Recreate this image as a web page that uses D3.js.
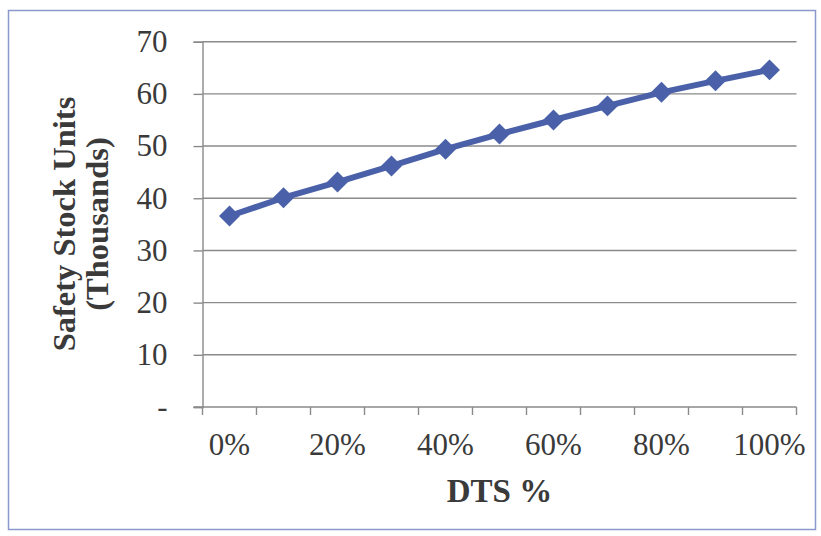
<!DOCTYPE html>
<html>
<head>
<meta charset="utf-8">
<script src="https://cdn.jsdelivr.net/npm/d3@7"></script>
<style>
  html, body { margin: 0; padding: 0; background: #fff; }
  svg { display: block; }
</style>
</head>
<body>
<svg id="chart" width="821" height="536"></svg>
<script>
// Safety stock (thousands of units) by DTS share
const categories = ["0%", "10%", "20%", "30%", "40%", "50%", "60%", "70%", "80%", "90%", "100%"];
const safetyStock = [36.6, 40.1, 43.1, 46.2, 49.4, 52.3, 55.0, 57.7, 60.3, 62.5, 64.6];
const yTicks = [0, 10, 20, 30, 40, 50, 60, 70];
const xLabelled = ["0%", "20%", "40%", "60%", "80%", "100%"];

const svg = d3.select("#chart");
const font = "'Liberation Serif', 'Times New Roman', serif";
const textColor = "#3a3a3a";
const axisColor = "#8a8a8a";
const seriesColor = "#4a61a9";

// outer chart frame
svg.append("rect")
  .attr("x", 8.5).attr("y", 10.5)
  .attr("width", 807).attr("height", 519)
  .attr("fill", "none")
  .attr("stroke", "#8a98cc")
  .attr("stroke-width", 1.5);

const plot = { left: 202.5, right: 796.5, top: 41.7, bottom: 407 };

const x = d3.scaleBand()
  .domain(categories)
  .range([plot.left, plot.right])
  .paddingInner(0).paddingOuter(0);

const y = d3.scaleLinear()
  .domain([0, 70])
  .range([plot.bottom, plot.top]);

// horizontal gridlines
svg.append("g")
  .selectAll("line")
  .data(yTicks.filter(d => d > 0))
  .join("line")
  .attr("x1", plot.left).attr("x2", plot.right)
  .attr("y1", d => y(d)).attr("y2", d => y(d))
  .attr("stroke", axisColor)
  .attr("stroke-width", 1.4);

// y axis
const yAxis = d3.axisLeft(y)
  .tickValues(yTicks)
  .tickSize(9)
  .tickPadding(26)
  .tickFormat(d => d === 0 ? "-" : d);
const gy = svg.append("g")
  .attr("transform", `translate(${plot.left},0)`)
  .call(yAxis);
gy.select(".domain").attr("stroke", axisColor).attr("stroke-width", 1.4);
gy.selectAll(".tick line").attr("stroke", axisColor).attr("stroke-width", 1.4);
gy.selectAll(".tick text")
  .attr("font-family", font)
  .attr("font-size", 31)
  .attr("fill", textColor);

// x axis: ticks on category boundaries, labels on every other category
const gx = svg.append("g").attr("transform", `translate(0,${plot.bottom})`);
gx.append("line")
  .attr("x1", plot.left - 9).attr("x2", plot.right)
  .attr("stroke", axisColor).attr("stroke-width", 1.4);
const bounds = categories.map(c => x(c)).concat([x(categories[categories.length - 1]) + x.bandwidth()]);
gx.selectAll("line.tick")
  .data(bounds)
  .join("line")
  .attr("class", "tick")
  .attr("x1", d => d).attr("x2", d => d)
  .attr("y1", 0).attr("y2", 8)
  .attr("stroke", axisColor).attr("stroke-width", 1.4);
gx.selectAll("text")
  .data(xLabelled)
  .join("text")
  .attr("x", d => x(d) + x.bandwidth() / 2)
  .attr("y", 48)
  .attr("text-anchor", "middle")
  .attr("font-family", font)
  .attr("font-size", 31)
  .attr("fill", textColor)
  .text(d => d);

// series line
const line = d3.line()
  .x((d, i) => x(categories[i]) + x.bandwidth() / 2)
  .y(d => y(d));
svg.append("path")
  .datum(safetyStock)
  .attr("d", line)
  .attr("fill", "none")
  .attr("stroke", seriesColor)
  .attr("stroke-width", 6)
  .attr("stroke-linejoin", "round");

// diamond markers
const diamond = d3.symbol().type(d3.symbolDiamond2).size(280);
svg.append("g")
  .selectAll("path")
  .data(safetyStock)
  .join("path")
  .attr("transform", (d, i) => `translate(${x(categories[i]) + x.bandwidth() / 2},${y(d)})`)
  .attr("d", diamond)
  .attr("fill", seriesColor);

// axis titles
svg.append("text")
  .attr("transform", `translate(${(plot.left + plot.right) / 2},502)`)
  .attr("text-anchor", "middle")
  .attr("font-family", font)
  .attr("font-weight", "bold")
  .attr("font-size", 33)
  .attr("fill", textColor)
  .text("DTS %");

const yTitle = svg.append("text")
  .attr("transform", "translate(0,224) rotate(-90)")
  .attr("text-anchor", "middle")
  .attr("font-family", font)
  .attr("font-weight", "bold")
  .attr("font-size", 32.5)
  .attr("fill", textColor);
yTitle.append("tspan").attr("x", 0).attr("y", 75).text("Safety Stock Units");
yTitle.append("tspan").attr("x", 0).attr("y", 108).text("(Thousands)");
</script>
</body>
</html>
